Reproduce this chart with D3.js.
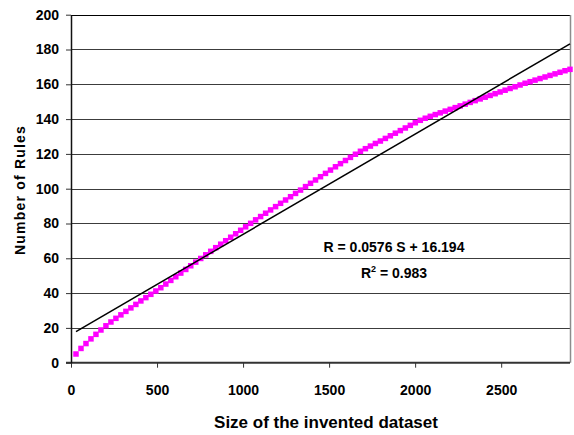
<!DOCTYPE html>
<html>
<head>
<meta charset="utf-8">
<script src="https://cdn.jsdelivr.net/npm/d3@7"></script>
<style>
  body { margin: 0; background: #fff; }
  svg text { font-family: "Liberation Sans", Arial, sans-serif; font-weight: bold; fill: #000; }
</style>
</head>
<body>
<svg id="chart" width="574" height="435"></svg>
<script>
// dataset sizes (x) and number of rules (y)
let sizes = [
  29, 58, 87, 116, 145, 174, 203, 232, 261, 290,
  319, 348, 377, 406, 435, 464, 493, 522, 551, 580,
  609, 638, 667, 696, 725, 754, 783, 812, 841, 870,
  899, 928, 957, 986, 1015, 1044, 1073, 1102, 1131, 1160,
  1189, 1218, 1247, 1276, 1305, 1334, 1363, 1392, 1421, 1450,
  1479, 1508, 1537, 1566, 1595, 1624, 1653, 1682, 1711, 1740,
  1769, 1798, 1827, 1856, 1885, 1914, 1943, 1972, 2001, 2030,
  2059, 2088, 2117, 2146, 2175, 2204, 2233, 2262, 2291, 2320,
  2349, 2378, 2407, 2436, 2465, 2494, 2523, 2552, 2581, 2610,
  2639, 2668, 2697, 2726, 2755, 2784, 2813, 2842, 2871, 2900
];
let rules = [
  5.0, 8.2, 11.0, 13.7, 16.3, 18.8, 21.2, 23.4, 25.5, 27.5,
  29.5, 31.5, 33.5, 35.5, 37.4, 39.3, 41.2, 43.1, 45.2, 47.3,
  49.4, 51.5, 53.6, 55.7, 57.8, 59.9, 62.0, 64.0, 66.1, 68.1,
  70.1, 72.1, 74.1, 76.1, 78.1, 80.1, 82.1, 84.0, 85.9, 87.8,
  89.7, 91.6, 93.5, 95.4, 97.3, 99.2, 101.2, 103.1, 105.0, 106.9,
  108.8, 110.7, 112.6, 114.4, 116.2, 118.0, 119.8, 121.5, 123.0, 124.5,
  126.0, 127.4, 128.9, 130.4, 131.9, 133.4, 134.9, 136.4, 137.9, 139.3,
  140.5, 141.6, 142.6, 143.6, 144.6, 145.6, 146.6, 147.6, 148.6, 149.6,
  150.6, 151.6, 152.6, 153.6, 154.6, 155.6, 156.6, 157.6, 158.6, 159.6,
  160.6, 161.5, 162.4, 163.3, 164.2, 165.1, 166.0, 166.9, 167.8, 168.6
];
let xTicks = [0, 500, 1000, 1500, 2000, 2500];
let yTicks = [0, 20, 40, 60, 80, 100, 120, 140, 160, 180, 200];
let trendSlope = 0.0576;
let trendIntercept = 16.194;
let rSquared = 0.983;

const svg = d3.select("#chart");
const plotLeft = 71, plotRight = 570, plotTop = 14.7, plotBottom = 362.7;

const x = d3.scaleLinear().domain([0, 2900]).range([plotLeft, plotRight]);
const y = d3.scaleLinear().domain([0, 200]).range([plotBottom, plotTop]);

// gridlines
svg.append("g")
  .selectAll("line")
  .data(yTicks.filter(d => d > 0))
  .join("line")
  .attr("x1", plotLeft).attr("x2", plotRight)
  .attr("y1", d => Math.round(y(d)) + 0.5).attr("y2", d => Math.round(y(d)) + 0.5)
  .attr("stroke", d => d == 200 ? "#000" : "#3c3c3c")
  .attr("stroke-width", 1);

// right border of the plot area
svg.append("line")
  .attr("x1", plotRight + 0.5).attr("x2", plotRight + 0.5)
  .attr("y1", Math.round(plotTop)).attr("y2", plotBottom)
  .attr("stroke", "#8c8c8c").attr("stroke-width", 1.5);

// axes
const xAxis = svg.append("g")
  .attr("transform", `translate(0,${plotBottom})`)
  .call(d3.axisBottom(x).tickValues(xTicks).tickFormat(d3.format("d"))
    .tickSize(5).tickSizeOuter(0).tickPadding(17));
xAxis.select(".domain").attr("stroke", "#333").attr("stroke-width", 2)
  .attr("d", `M${plotLeft - 5},0H${plotRight}`);
xAxis.selectAll(".tick line").attr("stroke", "#333");
xAxis.selectAll(".tick text").attr("font-size", 14).attr("font-family", null);

const yAxis = svg.append("g")
  .attr("transform", `translate(${plotLeft},0)`)
  .call(d3.axisLeft(y).tickValues(yTicks).tickSize(5).tickSizeOuter(0).tickPadding(7));
yAxis.select(".domain").attr("stroke", "#111").attr("stroke-width", 1.5);
yAxis.selectAll(".tick line").attr("stroke", "#333");
yAxis.selectAll(".tick text").attr("font-size", 14).attr("font-family", null);

// data markers
svg.append("g")
  .selectAll("rect")
  .data(sizes)
  .join("rect")
  .attr("x", d => x(d) - 2.75)
  .attr("y", (d, i) => y(rules[i]) - 2.75)
  .attr("width", 5.5)
  .attr("height", 5.5)
  .attr("fill", "#ff00ff");

// linear trendline
let s0 = sizes[0], s1 = sizes[sizes.length - 1];
svg.append("line")
  .attr("x1", x(s0)).attr("y1", y(trendSlope * s0 + trendIntercept))
  .attr("x2", x(s1)).attr("y2", y(trendSlope * s1 + trendIntercept))
  .attr("stroke", "#000").attr("stroke-width", 1.5);

// equation
svg.append("text")
  .attr("x", 394).attr("y", 252)
  .attr("text-anchor", "middle").attr("font-size", 14)
  .text(`R = ${trendSlope} S + ${trendIntercept}`);
let r2 = svg.append("text")
  .attr("x", 394).attr("y", 278)
  .attr("text-anchor", "middle").attr("font-size", 14);
r2.append("tspan").text("R");
r2.append("tspan").attr("font-size", 9).attr("dy", -6).text("2");
r2.append("tspan").attr("dy", 6).text(` = ${rSquared}`);

// axis titles
svg.append("text")
  .attr("x", 326).attr("y", 428)
  .attr("text-anchor", "middle").attr("font-size", 17)
  .text("Size of the invented dataset");

svg.append("text")
  .attr("transform", "translate(25,190) rotate(-90)")
  .attr("text-anchor", "middle").attr("font-size", 14)
  .attr("letter-spacing", 1.2)
  .text("Number of Rules");
</script>
</body>
</html>
